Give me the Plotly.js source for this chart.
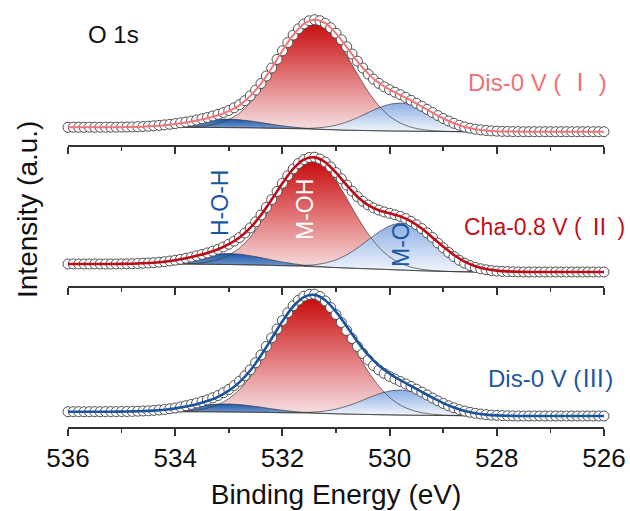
<!DOCTYPE html>
<html>
<head>
<meta charset="utf-8">
<script src="https://cdn.plot.ly/plotly-3.0.1.min.js"></script>
<style>html,body{margin:0;padding:0;background:#fff;}</style>
</head>
<body>
<div id="chart" style="width:630px;height:511px;"></div>
<script>
// Binding energy grid of measured points (eV)
const xData = [536.0,535.9,535.8,535.7,535.6,535.5,535.4,535.3,535.2,535.1,
535.0,534.9,534.8,534.7,534.6,534.5,534.4,534.3,534.2,534.1,
534.0,533.9,533.8,533.7,533.6,533.5,533.4,533.3,533.2,533.1,
533.0,532.9,532.8,532.7,532.6,532.5,532.4,532.3,532.2,532.1,
532.0,531.9,531.8,531.7,531.6,531.5,531.4,531.3,531.2,531.1,
531.0,530.9,530.8,530.7,530.6,530.5,530.4,530.3,530.2,530.1,
530.0,529.9,529.8,529.7,529.6,529.5,529.4,529.3,529.2,529.1,
529.0,528.9,528.8,528.7,528.6,528.5,528.4,528.3,528.2,528.1,
528.0,527.9,527.8,527.7,527.6,527.5,527.4,527.3,527.2,527.1,
527.0,526.9,526.8,526.7,526.6,526.5,526.4,526.3,526.2,526.1,526.0];

// Measured intensities (a.u.)
const data1 = [17.7,17.8,17.7,17.7,17.8,17.7,17.7,17.8,17.8,17.8,
17.9,18.0,18.1,18.3,18.5,18.8,19.2,19.6,20.1,20.7,
21.4,22.2,23.0,23.9,25.0,26.2,27.5,29.0,30.6,32.5,
34.6,37.2,40.3,44.3,49.2,54.9,61.5,69.0,77.0,85.6,
94.2,102.4,109.9,116.2,121.1,124.2,125.3,124.3,121.6,117.2,
111.8,105.3,98.2,91.0,83.8,77.0,70.9,65.8,61.6,58.2,
55.3,52.8,50.3,47.6,44.7,41.7,38.7,35.6,32.5,29.4,
26.5,24.0,21.7,19.7,18.0,16.8,15.8,15.1,14.5,14.1,
13.8,13.6,13.5,13.4,13.4,13.3,13.3,13.3,13.3,13.3,
13.3,13.3,13.3,13.3,13.3,13.3,13.3,13.3,13.3,13.3,13.3];
const data2 = [22.0,22.1,22.0,22.0,22.0,22.1,22.0,22.0,22.0,22.1,
22.1,22.2,22.3,22.5,22.7,23.0,23.3,23.8,24.3,25.0,
25.8,26.7,27.8,28.9,30.2,31.6,33.1,34.8,36.8,39.1,
41.8,44.9,48.5,53.0,58.1,64.2,71.0,78.6,86.4,94.6,
102.7,110.3,117.1,122.5,126.4,128.5,128.8,127.0,123.9,119.1,
113.4,107.2,100.9,94.8,89.4,84.7,81.0,78.0,75.9,74.1,
72.7,71.2,69.6,67.4,64.6,61.3,57.4,53.1,48.5,43.0,
38.2,33.6,29.4,25.8,22.8,20.4,18.6,17.2,16.2,15.4,
14.9,14.6,14.4,14.2,14.1,14.0,14.0,14.0,14.0,14.0,
14.0,14.0,14.0,14.0,14.0,14.0,14.0,14.0,14.0,14.0,14.0];
const data3 = [15.3,15.3,15.4,15.3,15.3,15.4,15.3,15.4,15.4,15.4,
15.5,15.5,15.6,15.8,16.0,16.2,16.6,17.0,17.5,18.2,
19.0,20.1,21.3,22.6,24.0,25.5,27.2,29.2,31.5,34.3,
37.5,41.4,45.8,51.2,57.2,64.3,72.0,80.5,89.2,98.0,
106.5,114.3,121.3,126.8,130.8,132.6,132.8,130.5,126.0,119.5,
112.5,104.5,96.5,88.5,80.5,73.5,67.0,61.5,57.0,53.5,
50.5,48.0,45.5,43.0,40.5,37.8,35.0,32.0,29.0,26.2,
23.6,21.2,19.2,17.4,15.9,14.7,13.7,12.9,12.3,11.9,
11.6,11.4,11.2,11.1,11.0,11.0,11.0,11.0,11.0,11.0,
11.0,11.0,11.0,11.0,11.0,11.0,11.0,11.0,11.0,11.0,11.0];

// Peak-fit grid (eV)
const xFit = [536.0,535.8,535.6,535.4,535.2,535.0,534.8,534.6,534.4,534.2,
534.0,533.8,533.6,533.4,533.2,533.0,532.8,532.6,532.4,532.2,
532.0,531.8,531.6,531.4,531.2,531.0,530.8,530.6,530.4,530.2,
530.0,529.8,529.6,529.4,529.2,529.0,528.8,528.6,528.4,528.2,
528.0,527.8,527.6,527.4,527.2,527.0,526.8,526.6,526.4,526.2,526.0];

// Panel I (Dis-0 V)
const bg1 = [17.7,17.7,17.7,17.7,17.7,17.7,17.7,17.7,17.7,17.7,
17.7,17.7,17.6,17.6,17.5,17.4,17.3,17.2,17.0,16.8,
16.6,16.3,16.0,15.7,15.4,15.1,14.8,14.6,14.4,14.2,
14.0,13.9,13.8,13.7,13.6,13.5,13.4,13.3,13.3,13.3,
13.3,13.3,13.3,13.3,13.3,13.3,13.3,13.3,13.3,13.3,13.3];
const mOH1 = [0,0,0,0,0,0,0,0,0,0,
0.1,0.3,0.8,1.8,4.0,8.0,14.7,24.9,39.0,56.3,
74.9,91.8,103.7,108,103.7,91.8,74.9,56.3,39.0,24.9,
14.7,8.0,4.0,1.8,0.8,0.3,0.1,0,0,0,
0,0,0,0,0,0,0,0,0,0,0];
const mO1 = [0,0,0,0,0,0,0,0,0,0,
0,0,0,0,0,0,0,0,0,0,
0.1,0.2,0.5,1.2,2.5,4.7,8.2,12.7,18.0,23.0,
26.7,28,26.7,23.0,18.0,12.7,8.2,4.7,2.5,1.2,
0.5,0.2,0.1,0,0,0,0,0,0,0,0];
const hOH1 = [0,0,0,0,0,0.1,0.3,0.6,1.2,2.0,
3.2,4.6,6.1,7.4,8.3,8.5,7.9,6.8,5.4,3.9,
2.6,1.6,0.9,0.4,0.2,0.1,0,0,0,0,
0,0,0,0,0,0,0,0,0,0,
0,0,0,0,0,0,0,0,0,0,0];

// Panel II (Cha-0.8 V)
const bg2 = [22.0,22.0,22.0,22.0,22.0,22.0,22.0,22.0,22.0,22.0,
22.0,21.9,21.8,21.7,21.6,21.5,21.3,21.1,20.9,20.6,
20.3,20.0,19.6,19.2,18.8,18.4,18.0,17.6,17.2,16.8,
16.4,16.0,15.6,15.2,14.9,14.6,14.4,14.2,14.1,14.0,
14.0,14.0,14.0,14.0,14.0,14.0,14.0,14.0,14.0,14.0,14.0];
const mOH2 = [0,0,0,0,0,0,0,0,0,0,
0.1,0.4,1.0,2.2,4.7,9.3,16.7,27.8,42.7,60.3,
78.6,94.4,104.6,106.7,100.4,87.1,69.6,51.3,34.8,21.8,
12.6,6.7,3.3,1.5,0.6,0.2,0,0,0,0,
0,0,0,0,0,0,0,0,0,0,0];
const mO2 = [0,0,0,0,0,0,0,0,0,0,
0,0,0,0,0,0,0,0,0,0,
0.1,0.4,0.9,2.0,4.2,7.7,13.2,20.4,28.9,37.2,
43.7,46.9,45.8,40.8,33.1,24.6,16.6,10.2,5.7,2.9,
1.4,0.6,0.2,0,0,0,0,0,0,0,0];
const hOH2 = [0,0,0,0,0,0.1,0.3,0.7,1.3,2.3,
3.7,5.5,7.4,9.2,10.5,11,10.5,9.2,7.4,5.5,
3.7,2.3,1.3,0.7,0.3,0.1,0,0,0,0,
0,0,0,0,0,0,0,0,0,0,
0,0,0,0,0,0,0,0,0,0,0];

// Panel III (Dis-0 V)
const bg3 = [15.3,15.3,15.3,15.3,15.3,15.3,15.3,15.3,15.3,15.3,
15.3,15.3,15.2,15.2,15.1,15.0,14.9,14.8,14.7,14.5,
14.3,14.1,13.9,13.7,13.4,13.2,12.9,12.7,12.5,12.3,
12.1,11.9,11.8,11.7,11.6,11.5,11.4,11.3,11.2,11.1,
11.0,11.0,11.0,11.0,11.0,11.0,11.0,11.0,11.0,11.0,11.0];
const mOH3 = [0,0,0,0,0,0,0,0,0,0.1,
0.3,0.8,1.8,3.7,7.3,13.3,22.5,35.3,51.7,70.3,
89.0,104.7,114.6,116.7,110.6,97.4,79.8,60.8,43.1,28.4,
17.4,9.9,5.3,2.6,1.2,0.5,0.2,0,0,0,
0,0,0,0,0,0,0,0,0,0,0];
const mO3 = [0,0,0,0,0,0,0,0,0,0,
0,0,0,0,0,0,0,0,0,0,
0,0.2,0.6,1.3,2.6,4.7,7.9,11.9,16.5,20.8,
23.9,25,23.9,20.8,16.5,11.9,7.9,4.7,2.6,1.3,
0.6,0.2,0,0,0,0,0,0,0,0,0];
const hOH3 = [0,0,0,0,0,0.1,0.3,0.6,1.1,1.9,
3.0,4.4,5.8,7.0,7.8,8.0,7.5,6.4,5.1,3.7,
2.4,1.5,0.8,0.4,0.2,0,0,0,0,0,
0,0,0,0,0,0,0,0,0,0,
0,0,0,0,0,0,0,0,0,0,0];

// Axis ticks and labels
const majorTicks = [536,534,532,530,528,526];
const majorLabels = ['536','534','532','530','528','526'];
const minorTicks = [535,533,531,529,527];
const compLabels = ['H-O-H','M-OH','M-O'];

const FONT = 'Liberation Sans, Arial, Helvetica, sans-serif';
const CJK = "<span style=\"font-family:'Noto Sans CJK SC'\">";
const sampleLabels = ['Dis-0 V ( ' + CJK + 'Ⅰ</span> )',
                      'Cha-0.8 V ( ' + CJK + 'Ⅱ</span> )',
                      'Dis-0 V (' + CJK + 'Ⅲ</span>)'];

const panels = [
  {bg:bg1, oh:mOH1, o:mO1, h:hOH1, d:data1, fit:'rgb(240,118,122)', fw:2, xa:'x', ya:'y'},
  {bg:bg2, oh:mOH2, o:mO2, h:hOH2, d:data2, fit:'rgb(188,10,22)', fw:2.6, xa:'x2', ya:'y2'},
  {bg:bg3, oh:mOH3, o:mO3, h:hOH3, d:data3, fit:'rgb(26,84,158)', fw:2.6, xa:'x3', ya:'y3'}
];

const redScale = [[0,'rgb(247,228,230)'],[0.5,'rgb(226,118,120)'],[1,'rgb(198,8,10)']];
const blueLight = [[0,'rgb(242,246,253)'],[1,'rgb(140,175,228)']];
const blueDark = [[0,'rgb(150,180,220)'],[1,'rgb(28,88,170)']];

function sumArr(a, b){ return a.map((v,i)=>v + b[i]); }

const traces = [];
panels.forEach(p => {
  const revX = xFit.slice().reverse();
  const revBg = p.bg.slice().reverse();
  const polyX = xFit.concat(revX);
  function poly(comp){ return sumArr(p.bg, comp).concat(revBg); }
  const fills = [
    {c:p.oh, g:redScale},
    {c:p.o, g:blueLight},
    {c:p.h, g:blueDark}
  ];
  fills.forEach(f => {
    traces.push({x:polyX, y:poly(f.c), xaxis:p.xa, yaxis:p.ya, type:'scatter', mode:'lines',
      fill:'toself', fillgradient:{type:'vertical', colorscale:f.g},
      line:{width:0, shape:'spline', smoothing:0.6}, hoverinfo:'skip'});
  });
  // component outlines
  [p.oh, p.o, p.h].forEach(c => {
    traces.push({x:xFit, y:sumArr(p.bg, c), xaxis:p.xa, yaxis:p.ya, type:'scatter', mode:'lines',
      line:{color:'rgba(55,55,55,0.85)', width:0.8, shape:'spline', smoothing:0.6}, hoverinfo:'skip'});
  });
  traces.push({x:xFit, y:p.bg, xaxis:p.xa, yaxis:p.ya, type:'scatter', mode:'lines',
    line:{color:'rgba(55,55,55,0.85)', width:0.8, shape:'spline'}, hoverinfo:'skip'});
  // measured points
  traces.push({x:xData, y:p.d, xaxis:p.xa, yaxis:p.ya, type:'scatter', mode:'markers',
    marker:{symbol:'circle', size:10, color:'white', line:{color:'#505050', width:1}}, cliponaxis:false});
  // envelope
  const env = sumArr(sumArr(sumArr(p.bg, p.oh), p.o), p.h);
  traces.push({x:xFit, y:env, xaxis:p.xa, yaxis:p.ya, type:'scatter', mode:'lines',
    line:{color:p.fit, width:p.fw, shape:'spline', smoothing:0.8}, cliponaxis:false});
});

function xAxis(anchor, labels){
  return {
    range:[536,526], anchor:anchor, domain:[0,1],
    showline:true, linecolor:'#333', linewidth:2, mirror:false,
    ticks:'outside', ticklen:7, tickwidth:2, tickcolor:'#333',
    tickmode:'array', tickvals:majorTicks, ticktext:majorLabels,
    showticklabels:labels, tickfont:{family:FONT, size:26, color:'#111'},
    minor:{tickmode:'array', tickvals:minorTicks, ticks:'outside', ticklen:4, tickwidth:1.5, tickcolor:'#333', showgrid:false},
    showgrid:false, zeroline:false, fixedrange:true
  };
}
function yAxis(domain, anchor){
  return {domain:domain, range:[0,141], anchor:anchor, visible:false, showgrid:false, zeroline:false, fixedrange:true};
}

const ax3 = xAxis('y3', true);
ax3.title = {text:'Binding Energy (eV)', font:{family:FONT, size:28, color:'#111'}, standoff:12};

const ann = [
  {text:'O 1s', x:113, y:34, font:{size:24, color:'#111'}},
  {text:sampleLabels[0], x:537, y:80, font:{size:24, color:'rgb(240,112,118)'}},
  {text:sampleLabels[1], x:627, y:225, xanchor:'right', font:{size:23, color:'rgb(192,16,26)'}},
  {text:sampleLabels[2], x:550, y:376, font:{size:24, color:'rgb(28,86,160)'}},
  {text:compLabels[0], x:220, y:203, textangle:-90, font:{size:23, color:'rgb(28,86,160)'}},
  {text:compLabels[1], x:305, y:210, textangle:-90, font:{size:23, color:'#ffffff'}},
  {text:compLabels[2], x:401, y:245, textangle:-90, font:{size:23, color:'rgb(28,86,160)'}},
  {text:'Intensity (a.u.)', x:27, y:210, textangle:-90, font:{size:28, color:'#111'}}
].map(a => Object.assign({
  xref:'paper', yref:'paper', showarrow:false, xanchor:'center', yanchor:'middle'
}, a, {
  x:(a.x - 68) / 536,
  y:(427 - a.y) / 423,
  font:Object.assign({family:FONT}, a.font)
}));

const layout = {
  width:630, height:511,
  margin:{l:68, r:26, t:4, b:84},
  paper_bgcolor:'#ffffff', plot_bgcolor:'#ffffff',
  showlegend:false,
  font:{family:FONT, color:'#111'},
  xaxis:xAxis('y', false),
  xaxis2:xAxis('y2', false),
  xaxis3:ax3,
  yaxis:yAxis([2/3, 1], 'x'),
  yaxis2:yAxis([1/3, 2/3], 'x2'),
  yaxis3:yAxis([0, 1/3], 'x3'),
  annotations:ann
};

Plotly.newPlot('chart', traces, layout, {displayModeBar:false, staticPlot:true});
</script>
</body>
</html>
